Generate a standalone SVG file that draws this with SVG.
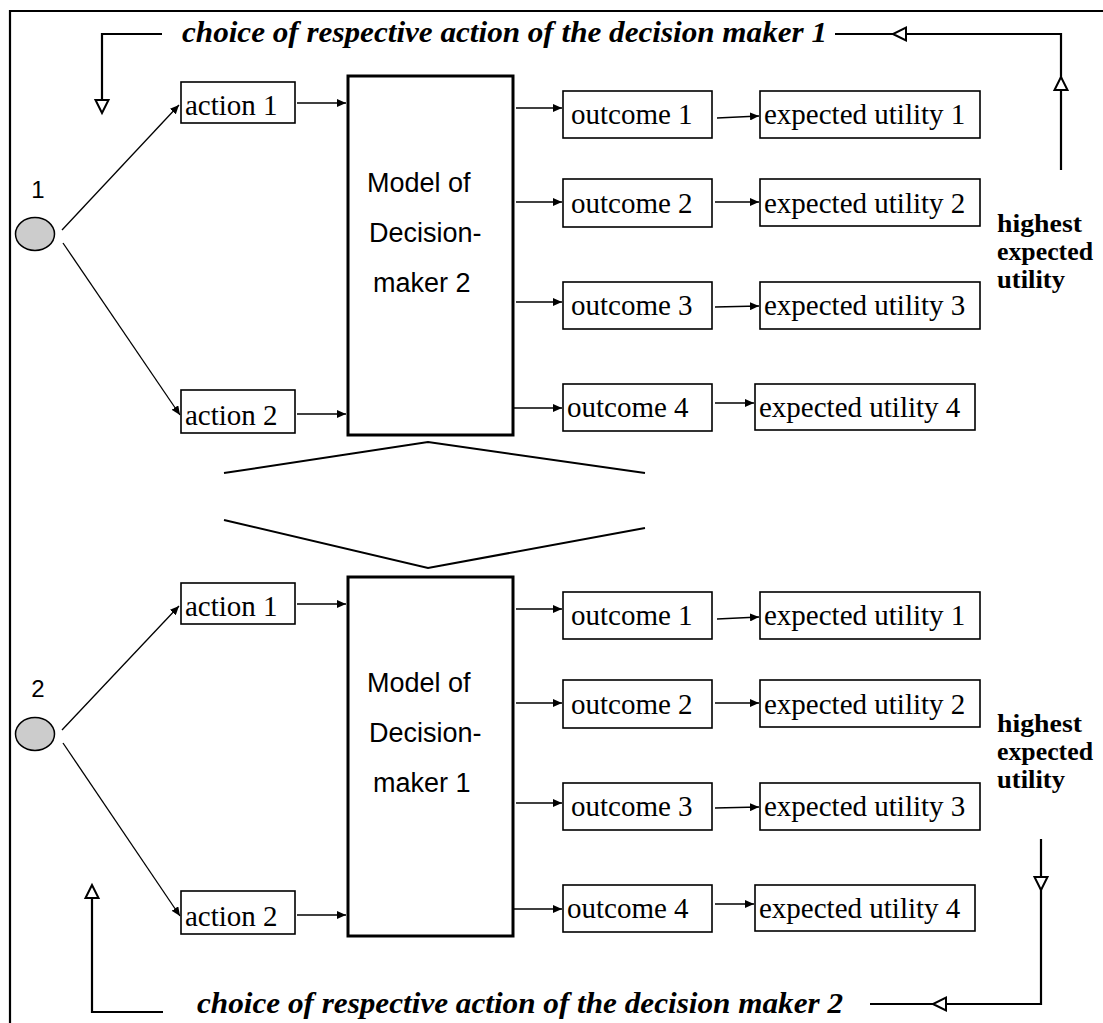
<svg xmlns="http://www.w3.org/2000/svg" width="1103" height="1023" viewBox="0 0 1103 1023">
<style>
.bg{fill:#fff}
.box{fill:#fff;stroke:#000;stroke-width:1.6}
.model{fill:#fff;stroke:#000;stroke-width:3}
.node{fill:#cccccc;stroke:#000;stroke-width:1.5}
.t{font-family:"Liberation Serif","Times New Roman",serif;font-size:29px;fill:#000}
.a{font-family:"Liberation Sans",Arial,sans-serif;font-size:27px;fill:#000}
.n{font-family:"Liberation Sans",Arial,sans-serif;font-size:24px;fill:#000}
.b{font-family:"Liberation Serif","Times New Roman",serif;font-size:26px;font-weight:bold;fill:#000}
.bi{font-family:"Liberation Serif","Times New Roman",serif;font-size:29px;font-weight:bold;font-style:italic;fill:#000}
.c{stroke:#000;stroke-width:1.3;fill:none;marker-end:url(#ah)}
.fb{stroke:#000;stroke-width:2.2;fill:none}
.sep{stroke:#000;stroke-width:2;fill:none}
.frame{stroke:#000;stroke-width:2.2;fill:none}
</style>
<defs>
<marker id="ah" markerUnits="userSpaceOnUse" markerWidth="10" markerHeight="8" refX="9" refY="4" orient="auto">
<path d="M0,0 L9,4 L0,8 z" fill="#000"/>
</marker>
<path id="otri" d="M0,0 L-13,-6.5 L-13,6.5 Z" fill="#fff" stroke="#000" stroke-width="2"/>
</defs>
<rect class="bg" x="0" y="0" width="1103" height="1023"/>
<path class="frame" d="M10,1023 V11 H1103"/>

<g id="node-dm1">
<ellipse class="node" cx="35" cy="234" rx="19.5" ry="16.5"/>
<text class="n" x="38" y="198" text-anchor="middle">1</text>
</g>
<g id="top-action1"><rect class="box" x="181" y="82" width="114" height="41"/><text class="t" x="185" y="115">action 1</text></g>
<g id="top-action2"><rect class="box" x="181" y="390" width="114" height="43"/><text class="t" x="185" y="425">action 2</text></g>
<g id="top-model"><rect class="model" x="348" y="76" width="165" height="359"/>
<text class="a" x="367" y="192">Model of</text><text class="a" x="369" y="242">Decision-</text><text class="a" x="373" y="292">maker 2</text></g>
<g id="top-outcome1"><rect class="box" x="563" y="91" width="149" height="47"/><text class="t" x="571" y="124">outcome 1</text></g>
<g id="top-outcome2"><rect class="box" x="563" y="179" width="149" height="48"/><text class="t" x="571" y="213">outcome 2</text></g>
<g id="top-outcome3"><rect class="box" x="563" y="282" width="149" height="47"/><text class="t" x="571" y="315">outcome 3</text></g>
<g id="top-outcome4"><rect class="box" x="563" y="384" width="149" height="47"/><text class="t" x="567" y="417">outcome 4</text></g>
<g id="top-eu1"><rect class="box" x="760" y="91" width="220" height="47"/><text class="t" x="764" y="124">expected utility 1</text></g>
<g id="top-eu2"><rect class="box" x="760" y="179" width="220" height="47"/><text class="t" x="764" y="213">expected utility 2</text></g>
<g id="top-eu3"><rect class="box" x="760" y="282" width="220" height="47"/><text class="t" x="764" y="315">expected utility 3</text></g>
<g id="top-eu4"><rect class="box" x="755" y="384" width="220" height="46"/><text class="t" x="759" y="417">expected utility 4</text></g>
<g id="top-highest"><text class="b" x="997" y="232" textLength="85" lengthAdjust="spacingAndGlyphs">highest</text><text class="b" x="997" y="260" textLength="96" lengthAdjust="spacingAndGlyphs">expected</text><text class="b" x="997" y="288" textLength="68" lengthAdjust="spacingAndGlyphs">utility</text></g>
<g id="top-choice"><text class="bi" x="182" y="42" textLength="645" lengthAdjust="spacingAndGlyphs">choice of respective action of the decision maker 1</text></g>

<g id="node-dm2">
<ellipse class="node" cx="35" cy="734" rx="19.5" ry="16.5"/>
<text class="n" x="38" y="697" text-anchor="middle">2</text>
</g>
<g id="bot-action1"><rect class="box" x="181" y="583" width="114" height="41"/><text class="t" x="185" y="616">action 1</text></g>
<g id="bot-action2"><rect class="box" x="181" y="891" width="114" height="43"/><text class="t" x="185" y="926">action 2</text></g>
<g id="bot-model"><rect class="model" x="348" y="577" width="165" height="359"/>
<text class="a" x="367" y="692">Model of</text><text class="a" x="369" y="742">Decision-</text><text class="a" x="373" y="792">maker 1</text></g>
<g id="bot-outcome1"><rect class="box" x="563" y="592" width="149" height="47"/><text class="t" x="571" y="625">outcome 1</text></g>
<g id="bot-outcome2"><rect class="box" x="563" y="680" width="149" height="48"/><text class="t" x="571" y="714">outcome 2</text></g>
<g id="bot-outcome3"><rect class="box" x="563" y="783" width="149" height="47"/><text class="t" x="571" y="816">outcome 3</text></g>
<g id="bot-outcome4"><rect class="box" x="563" y="885" width="149" height="47"/><text class="t" x="567" y="918">outcome 4</text></g>
<g id="bot-eu1"><rect class="box" x="760" y="592" width="220" height="47"/><text class="t" x="764" y="625">expected utility 1</text></g>
<g id="bot-eu2"><rect class="box" x="760" y="680" width="220" height="47"/><text class="t" x="764" y="714">expected utility 2</text></g>
<g id="bot-eu3"><rect class="box" x="760" y="783" width="220" height="47"/><text class="t" x="764" y="816">expected utility 3</text></g>
<g id="bot-eu4"><rect class="box" x="755" y="885" width="220" height="46"/><text class="t" x="759" y="918">expected utility 4</text></g>
<g id="bot-highest"><text class="b" x="997" y="732" textLength="85" lengthAdjust="spacingAndGlyphs">highest</text><text class="b" x="997" y="760" textLength="96" lengthAdjust="spacingAndGlyphs">expected</text><text class="b" x="997" y="788" textLength="68" lengthAdjust="spacingAndGlyphs">utility</text></g>
<g id="bot-choice"><text class="bi" x="197" y="1013" textLength="646" lengthAdjust="spacingAndGlyphs">choice of respective action of the decision maker 2</text></g>

<g id="separator">
<polyline class="sep" points="224,473 428,442 645,473"/>
<polyline class="sep" points="224,520 428,568 645,528"/>
</g>

<g id="connectors">
<line class="c" x1="62" y1="230" x2="179" y2="105"/>
<line class="c" x1="63" y1="243" x2="180" y2="415"/>
<line class="c" x1="297" y1="103" x2="346" y2="103"/>
<line class="c" x1="297" y1="414" x2="346" y2="414"/>
<line class="c" x1="516" y1="108" x2="562" y2="108"/>
<line class="c" x1="516" y1="202" x2="562" y2="202"/>
<line class="c" x1="516" y1="302" x2="562" y2="302"/>
<line class="c" x1="514" y1="408" x2="562" y2="408"/>
<line class="c" x1="717" y1="118" x2="759" y2="116"/>
<line class="c" x1="715" y1="202" x2="759" y2="202"/>
<line class="c" x1="715" y1="307" x2="759" y2="306"/>
<line class="c" x1="715" y1="403" x2="754" y2="403"/>

<line class="c" x1="62" y1="730" x2="179" y2="606"/>
<line class="c" x1="63" y1="743" x2="180" y2="916"/>
<line class="c" x1="297" y1="604" x2="346" y2="604"/>
<line class="c" x1="297" y1="915" x2="346" y2="915"/>
<line class="c" x1="516" y1="609" x2="562" y2="609"/>
<line class="c" x1="516" y1="703" x2="562" y2="703"/>
<line class="c" x1="516" y1="803" x2="562" y2="803"/>
<line class="c" x1="514" y1="909" x2="562" y2="909"/>
<line class="c" x1="717" y1="619" x2="759" y2="617"/>
<line class="c" x1="715" y1="703" x2="759" y2="703"/>
<line class="c" x1="715" y1="808" x2="759" y2="807"/>
<line class="c" x1="715" y1="904" x2="754" y2="904"/>

<polyline class="fb" points="1061,170 1061,34 835,34"/>
<polyline class="fb" points="162,34 102,34 102,100"/>
<use href="#otri" transform="translate(1061,77) rotate(-90)"/>
<use href="#otri" transform="translate(893,34) rotate(180)"/>
<use href="#otri" transform="translate(102,113) rotate(90)"/>

<polyline class="fb" points="1041,839 1041,1004 870,1004"/>
<polyline class="fb" points="163,1012 92,1012 92,898"/>
<use href="#otri" transform="translate(1041,890) rotate(90)"/>
<use href="#otri" transform="translate(933,1004) rotate(180)"/>
<use href="#otri" transform="translate(92,885) rotate(-90)"/>
</g>
</svg>
